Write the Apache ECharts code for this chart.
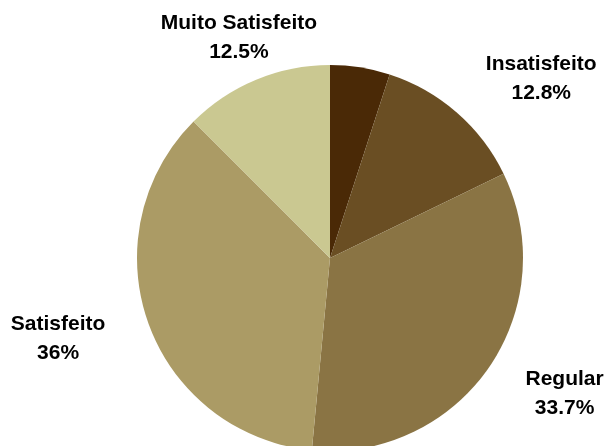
<!DOCTYPE html>
<html>
<head>
<meta charset="utf-8">
<script src="https://cdn.jsdelivr.net/npm/echarts@6/dist/echarts.min.js"></script>
<style>
html,body{margin:0;padding:0;background:#fff;}
#chart{width:606px;height:446px;}
</style>
</head>
<body>
<div id="chart"></div>
<script>
const categories = ['Muito Insatisfeito', 'Insatisfeito', 'Regular', 'Satisfeito', 'Muito Satisfeito'];
const values = [5, 12.8, 33.7, 36, 12.5];
const showLabel = [false, true, true, true, true];
const colors = ['#4a2906', '#6a4e23', '#8a7444', '#ab9b65', '#cac891'];
const labelLen2 = [0, 55, 39, 48, 0];

const chart = echarts.init(document.getElementById('chart'), null, {renderer: 'canvas'});
chart.setOption({
  animation: false,
  backgroundColor: '#ffffff',
  series: [{
    type: 'pie',
    center: [330, 258],
    radius: 193,
    startAngle: 90,
    clockwise: true,
    avoidLabelOverlap: false,
    itemStyle: {borderWidth: 0},
    emphasis: {disabled: true},
    label: {
      show: true,
      position: 'outside',
      formatter: '{b}\n{c}%',
      color: '#000000',
      fontFamily: 'Liberation Sans',
      fontWeight: 'bold',
      fontSize: 21,
      lineHeight: 29,
      width: 220,
      overflow: 'none',
      distanceToLabelLine: 0
    },
    labelLine: {show: false, length: 45, length2: 0},
    labelLayout: function () { return {align: 'center'}; },
    data: categories.map((name, i) => ({
      name: name,
      value: values[i],
      itemStyle: {color: colors[i]},
      label: {show: showLabel[i]},
      labelLine: {show: false, length: 45, length2: labelLen2[i]}
    }))
  }]
});
</script>
</body>
</html>
